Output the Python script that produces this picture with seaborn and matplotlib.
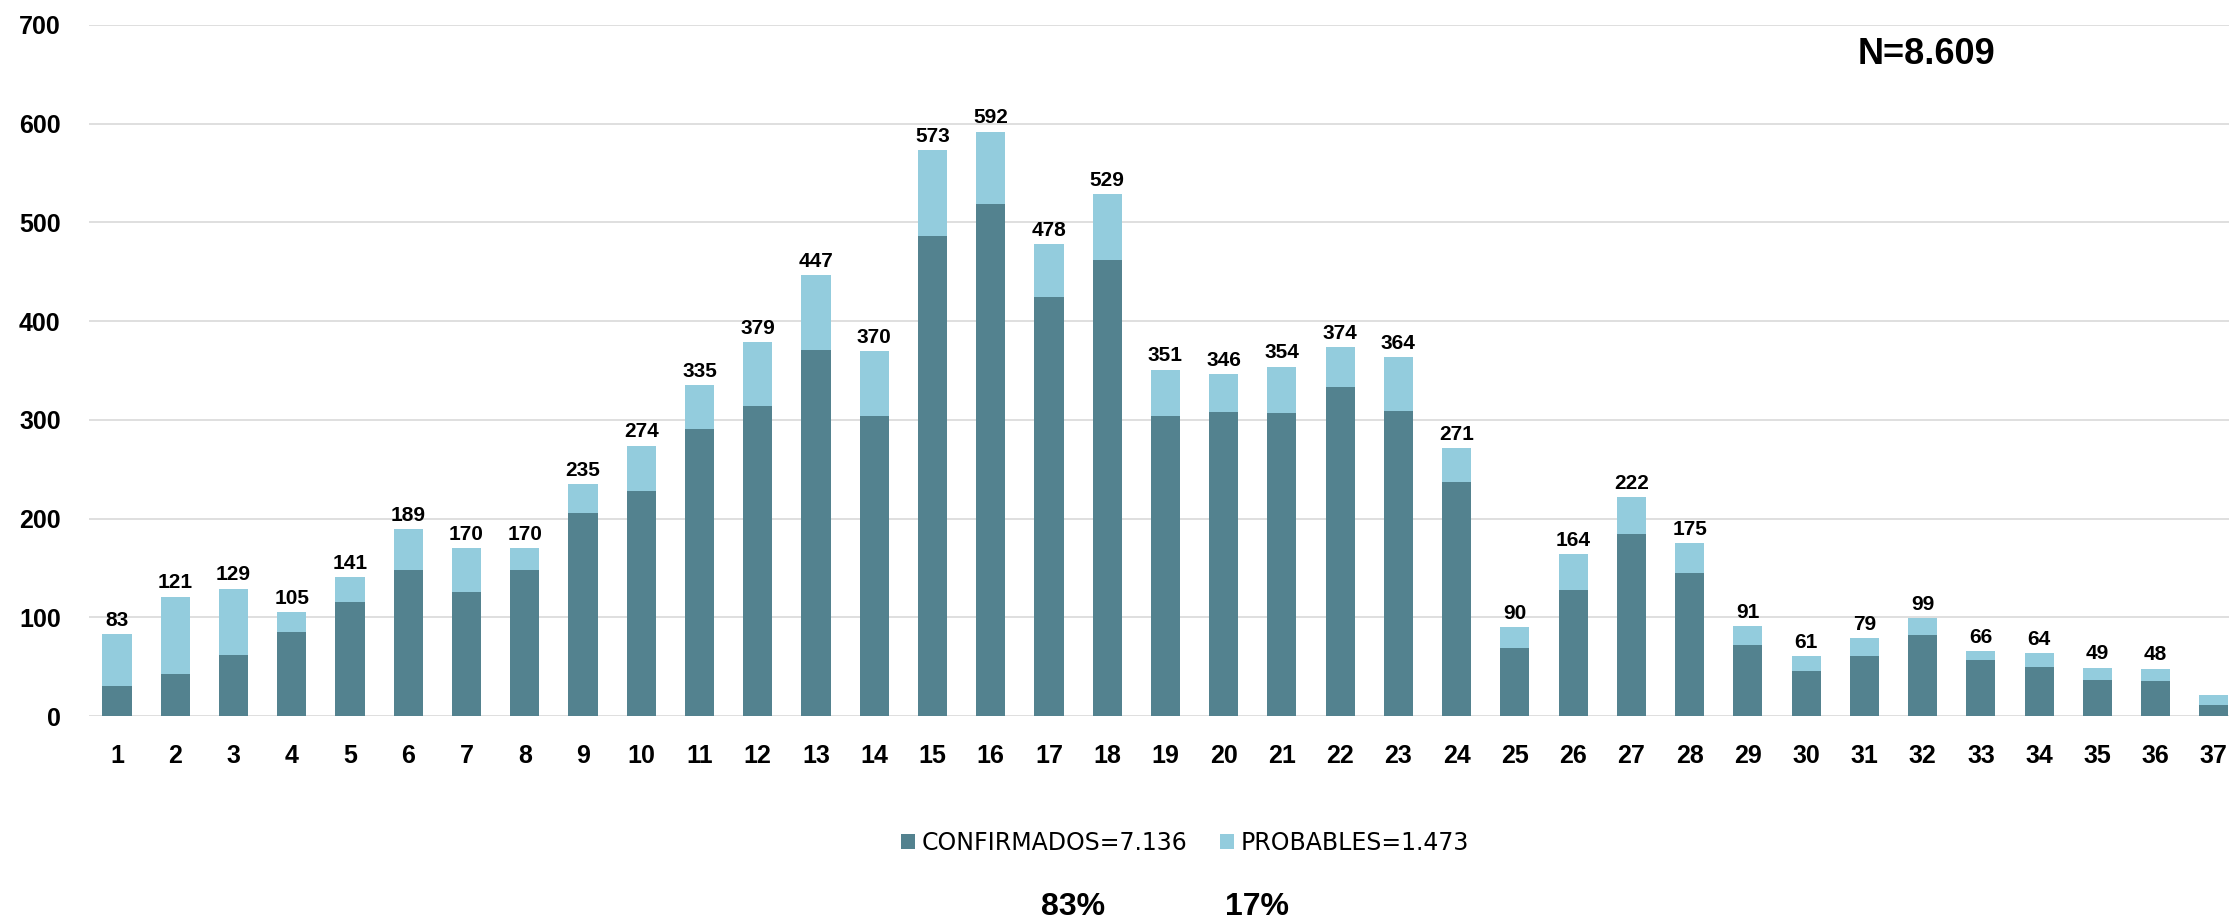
import pandas as pd
import matplotlib.pyplot as plt
import seaborn as sns
from matplotlib.patches import Patch

# Data
semanas = [str(i) for i in range(1, 38)]
confirmados = [30, 43, 62, 85, 115, 148, 126, 148, 206, 228,
               291, 314, 371, 304, 486, 519, 424, 462, 304, 308,
               307, 333, 309, 237, 69, 128, 184, 145, 72, 46,
               61, 82, 57, 50, 36, 35, 11]
probables = [53, 78, 67, 20, 26, 41, 44, 22, 29, 46,
             44, 65, 76, 66, 87, 73, 54, 67, 47, 38,
             47, 41, 55, 34, 21, 36, 38, 30, 19, 15,
             18, 17, 9, 14, 13, 13, 10]
leyenda = ["CONFIRMADOS=7.136", "PROBABLES=1.473"]
porcentajes = ["83%", "17%"]
total_n = "N=8.609"

df = pd.DataFrame({"semana": semanas, "confirmados": confirmados, "probables": probables})
df["total"] = df["confirmados"] + df["probables"]

col_conf = "#53828F"
col_prob = "#93CCDD"

sns.set_theme(style="white")
plt.rcParams["font.family"] = ["Liberation Sans", "DejaVu Sans"]
plt.rcParams["text.color"] = "black"
plt.rcParams["xtick.color"] = "black"
plt.rcParams["ytick.color"] = "black"

fig = plt.figure(figsize=(22.29, 9.23), dpi=100)
ax = fig.add_axes([88.5 / 2229, 207 / 923, 1 - 88.5 / 2229, 691 / 923])

# Stacked bars: totals in light colour, confirmed on top of it
sns.barplot(data=df, x="semana", y="total", color=col_prob, saturation=1,
            width=0.5, linewidth=0, ax=ax, zorder=3)
sns.barplot(data=df, x="semana", y="confirmados", color=col_conf, saturation=1,
            width=0.5, linewidth=0, ax=ax, zorder=3)

# Value labels on top (last week has none in the original)
for i, v in enumerate(df["total"]):
    if i == len(df) - 1:
        continue
    ax.annotate(str(v), (i, v), xytext=(0, 3), textcoords="offset points",
                ha="center", va="bottom", fontsize=15, fontweight="bold", color="black")

ax.set_ylim(0, 700)
ax.set_xlim(-0.49, 36.26)
ax.set_yticks(range(0, 701, 100))
ax.yaxis.grid(True, color="#D9D9D9", linewidth=1.2, zorder=0)
ax.set_axisbelow(True)
for s in ax.spines.values():
    s.set_visible(False)
ax.set_xlabel("")
ax.set_ylabel("")
ax.tick_params(axis="both", length=0, labelsize=18, labelcolor="black")
ax.tick_params(axis="y", pad=20)
ax.tick_params(axis="x", pad=20)
for lbl in ax.get_xticklabels() + ax.get_yticklabels():
    lbl.set_fontweight("bold")

# Legend
handles = [Patch(facecolor=col_conf, edgecolor="none"), Patch(facecolor=col_prob, edgecolor="none")]
fig.legend(handles, leyenda, loc="center", bbox_to_anchor=(1185 / 2229, 1 - 843 / 923),
           ncol=2, frameon=False, handlelength=0.6, handleheight=0.6,
           handletextpad=0.27, columnspacing=1.4, labelcolor="black",
           prop={"family": "DejaVu Sans", "size": 17})

# Percentages and N
fig.text(1073 / 2229, 1 - 907 / 923, porcentajes[0], ha="center", va="center",
         fontsize=23, fontweight="bold", color="black")
fig.text(1257 / 2229, 1 - 907 / 923, porcentajes[1], ha="center", va="center",
         fontsize=23, fontweight="bold", color="black")
fig.text(1927 / 2229, 1 - 54.5 / 923, total_n, ha="center", va="center",
         fontsize=26, fontweight="bold", color="black")

fig.savefig("out.png", dpi=100)
